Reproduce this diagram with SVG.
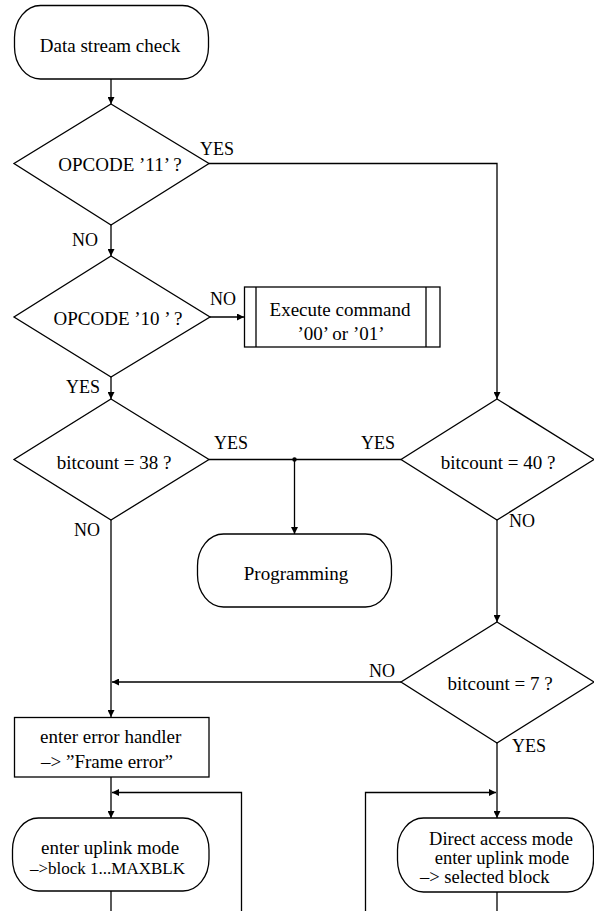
<svg xmlns="http://www.w3.org/2000/svg" width="594" height="911" viewBox="0 0 594 911" font-family="'Liberation Serif', 'DejaVu Serif', 'Times New Roman', Times, serif">
<style>
.s{fill:#fff;stroke:#000;stroke-width:1.3}
.l{fill:none;stroke:#000;stroke-width:1.3}
text{font-family:'Liberation Serif','DejaVu Serif','Times New Roman',Times,serif;font-size:19px;fill:#000}
.c{text-anchor:middle}
.lab{font-size:18px}
.sm{font-size:17px}
.t{font-size:18.5px}
</style>
<defs>
<marker id="a" viewBox="0 0 10 10" refX="10" refY="5" markerWidth="7" markerHeight="7" markerUnits="userSpaceOnUse" orient="auto"><path d="M0,0 L10,5 L0,10 z" fill="#000"/></marker>
</defs>
<rect width="594" height="911" fill="#fff"/>
<g id="connectors">
<path class="l" d="M111,79 V104" marker-end="url(#a)"/>
<path class="l" d="M209,163.5 H497 V399" marker-end="url(#a)"/>
<path class="l" d="M111,225 V256" marker-end="url(#a)"/>
<path class="l" d="M210,317 H244" marker-end="url(#a)"/>
<path class="l" d="M111,377 V399" marker-end="url(#a)"/>
<path class="l" d="M209,459.5 H401"/>
<circle cx="294.5" cy="459.5" r="2.2" fill="#000"/>
<path class="l" d="M294.5,459.5 V534" marker-end="url(#a)"/>
<path class="l" d="M111,520 V717" marker-end="url(#a)"/>
<path class="l" d="M497,520 V622" marker-end="url(#a)"/>
<path class="l" d="M401,682 H112" marker-end="url(#a)"/>
<path class="l" d="M497,743 V818" marker-end="url(#a)"/>
<path class="l" d="M111,777 V818" marker-end="url(#a)"/>
<path class="l" d="M241.5,911 V792.5 H112" marker-end="url(#a)"/>
<path class="l" d="M365.5,911 V792.5 H496" marker-end="url(#a)"/>
<path class="l" d="M111,891 V911"/>
<path class="l" d="M497,892 V911"/>
<text class="lab" x="200" y="155">YES</text>
<text class="lab" x="72" y="246">NO</text>
<text class="lab" x="210" y="305">NO</text>
<text class="lab" x="66" y="393">YES</text>
<text class="lab" x="214" y="449">YES</text>
<text class="lab" x="361" y="449">YES</text>
<text class="lab" x="74" y="536">NO</text>
<text class="lab" x="509" y="527">NO</text>
<text class="lab" x="369" y="677">NO</text>
<text class="lab" x="512" y="752">YES</text>
</g>
<g id="start">
<rect class="s" x="14.5" y="5.5" width="194" height="73.5" rx="26" ry="32"/>
<text class="c" x="110" y="52">Data stream check</text>
</g>
<g id="opcode11">
<polygon class="s" points="111,104 209,163.5 111,225 14,163.5"/>
<text class="c" x="120" y="171">OPCODE ’11’ ?</text>
</g>
<g id="opcode10">
<polygon class="s" points="111,256 210,317 111,377 14,317"/>
<text class="c" x="118" y="325">OPCODE ’10 ’ ?</text>
</g>
<g id="execute">
<rect class="s" x="244.5" y="287" width="195.5" height="60"/>
<path class="l" d="M256,287 V347 M426,287 V347"/>
<text class="c" x="340" y="316">Execute command</text>
<text class="c" x="341" y="340">’00’ or ’01’</text>
</g>
<g id="bit38">
<polygon class="s" points="111,399 209,459.5 111,520 14,459.5"/>
<text class="c" x="114" y="469">bitcount = 38 ?</text>
</g>
<g id="bit40">
<polygon class="s" points="497,399 594,459.5 497,520 401,459.5"/>
<text class="c" x="498" y="469">bitcount = 40 ?</text>
</g>
<g id="programming">
<rect class="s" x="197.5" y="534" width="194" height="73" rx="26" ry="32"/>
<text class="c" x="296" y="580">Programming</text>
</g>
<g id="bit7">
<polygon class="s" points="497,622 594,682 497,743 401,682"/>
<text class="c" x="500" y="690">bitcount = 7 ?</text>
</g>
<g id="error">
<rect class="s" x="14.5" y="717.5" width="194.5" height="59.5"/>
<text x="40" y="743">enter error handler</text>
<text x="41" y="768">–&gt; ”Frame error”</text>
</g>
<g id="uplink">
<rect class="s" x="12.5" y="818" width="196.5" height="73" rx="26" ry="32"/>
<text x="41" y="854">enter uplink mode</text>
<text class="sm" x="30" y="874">–&gt;block 1...MAXBLK</text>
</g>
<g id="direct">
<rect class="s" x="397.5" y="818" width="196" height="74" rx="26" ry="32"/>
<text class="c t" x="501" y="845">Direct access mode</text>
<text class="c t" x="502" y="864">enter uplink mode</text>
<text class="t" x="420" y="883">–&gt; selected block</text>
</g>
</svg>
